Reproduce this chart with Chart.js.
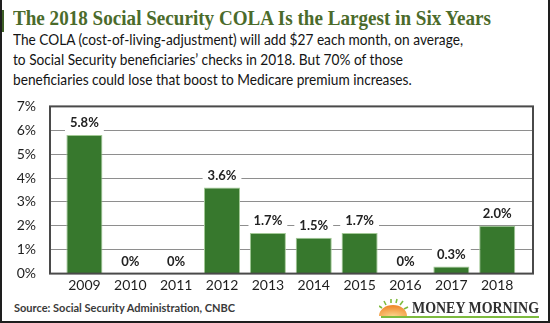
<!DOCTYPE html>
<html>
<head>
<meta charset="utf-8">
<script src="https://cdn.jsdelivr.net/npm/chart.js@4.4.1/dist/chart.umd.min.js"></script>
<style>
  html, body { margin: 0; padding: 0; background: #fff; }
  #card {
    position: relative; width: 550px; height: 323px; box-sizing: border-box;
    border-left: 2px solid #1e1e1e; border-right: 2px solid #1e1e1e; border-bottom: 2px solid #1e1e1e;
    overflow: hidden; background: #fff;
  }
  #accent { position: absolute; left: 0; top: 10px; width: 2px; height: 22px; background: #3e5f27; }
  #title {
    position: absolute; left: 11px; top: 5px; white-space: nowrap;
    font-family: "Liberation Serif", "DejaVu Serif", serif; font-weight: bold; font-size: 22px;
    color: #4b6b2b; transform-origin: left top;
  }
  #sub {
    position: absolute; left: 11px; top: 29px; white-space: nowrap;
    font-family: "Lato", "Noto Sans", sans-serif; font-size: 15px; line-height: 20px; color: #141414;
    transform-origin: left top;
  }
  #wrap { position: absolute; left: -2px; top: 84px; width: 550px; height: 212px; }
  #source {
    position: absolute; left: 12px; top: 301px;
    font-family: "Lato", "Noto Sans", sans-serif; font-size: 11px; font-weight: bold; color: #3a3a3a;
  }
  #logo { position: absolute; left: 377px; top: 295px; }
</style>
</head>
<body>
<div id="card">
  <div id="accent"></div>
  <div id="title">The 2018 Social Security COLA Is the Largest in Six Years</div>
  <div id="sub">The COLA (cost-of-living-adjustment) will add $27 each month, on average,<br>to Social Security beneficiaries’ checks in 2018. But 70% of those<br>beneficiaries could lose that boost to Medicare premium increases.</div>
  <div id="wrap"><canvas id="cola"></canvas></div>
  <div id="source">Source: Social Security Administration, CNBC</div>
  <svg id="logo" width="164" height="26" viewBox="0 0 164 26">
    <defs>
      <radialGradient id="sun" cx="0.5" cy="1" r="0.9">
        <stop offset="0" stop-color="#fbd48a"/>
        <stop offset="1" stop-color="#f08a2e"/>
      </radialGradient>
    </defs>
    <g stroke="#7dbb3e" stroke-width="1.6">
      <line x1="3" y1="13" x2="0" y2="11"/>
      <line x1="7" y1="10" x2="5" y2="6"/>
      <line x1="12" y1="8" x2="12" y2="4"/>
      <line x1="17" y1="8" x2="18" y2="4"/>
      <line x1="21" y1="10" x2="24" y2="6"/>
      <line x1="25" y1="14" x2="29" y2="12"/>
    </g>
    <path d="M0 21 A14 11 0 0 1 28 21 Z" fill="url(#sun)"/>
    <text x="33" y="17.5" font-family="Liberation Serif, serif" font-size="16" font-weight="bold" fill="#2f2f2f" textLength="127" lengthAdjust="spacingAndGlyphs">MONEY MORNING</text>
    <rect x="2" y="21" width="158" height="2" fill="#7dbb3e"/>
  </svg>
</div>
<script>
const years = ['2009', '2010', '2011', '2012', '2013', '2014', '2015', '2016', '2017', '2018'];
const colaPct = [5.8, 0, 0, 3.6, 1.7, 1.5, 1.7, 0, 0.3, 2.0];
const pctLabels = ['5.8%', '0%', '0%', '3.6%', '1.7%', '1.5%', '1.7%', '0%', '0.3%', '2.0%'];

// squeeze the headline and the intro to their column widths
function fitWidth(el, target) {
  const w = el.getBoundingClientRect().width;
  el.style.transform = 'scaleX(' + (target / w) + ')';
}
fitWidth(document.getElementById('title'), 478);
fitWidth(document.getElementById('sub'), 450);

// value tags on a white box that cuts through the grid lines
const valueTags = {
  id: 'valueTags',
  afterDatasetsDraw(chart) {
    const ctx = chart.ctx;
    const meta = chart.getDatasetMeta(0);
    ctx.save();
    ctx.font = 'bold 13px Lato, "Noto Sans", sans-serif';
    ctx.textAlign = 'center';
    ctx.textBaseline = 'middle';
    meta.data.forEach((bar, i) => {
      const txt = pctLabels[i];
      const y = bar.y - 12;
      const w = ctx.measureText(txt).width + 10;
      ctx.fillStyle = '#fff';
      ctx.fillRect(bar.x - w / 2, y - 8, w, 16);
      ctx.fillStyle = '#222';
      ctx.fillText(txt, bar.x, y);
    });
    ctx.restore();
  }
};

// dark frame round the plot area
const plotFrame = {
  id: 'plotFrame',
  afterDraw(chart) {
    const a = chart.chartArea;
    const ctx = chart.ctx;
    ctx.save();
    ctx.strokeStyle = '#4a4a4a';
    ctx.lineWidth = 2;
    ctx.strokeRect(a.left, a.top, a.right - a.left, a.bottom - a.top);
    ctx.restore();
  }
};

// years sit on a numeric axis so the outer margins can be wider than half a slot
const points = years.map((yr, i) => ({ x: i, y: colaPct[i] }));

new Chart(document.getElementById('cola'), {
  type: 'bar',
  data: {
    datasets: [{
      data: points,
      backgroundColor: '#37782d',
      borderColor: '#a3c996',
      borderWidth: 1,
      categoryPercentage: 1,
      barPercentage: 0.786
    }]
  },
  options: {
    responsive: true,
    maintainAspectRatio: false,
    animation: false,
    layout: { padding: { top: 5, right: 17, left: 0, bottom: 0 } },
    plugins: { legend: { display: false }, tooltip: { enabled: false } },
    scales: {
      x: {
        type: 'linear',
        offset: false,
        min: -0.75, max: 9.78,
        grid: { display: false, drawTicks: false },
        border: { display: false },
        afterBuildTicks(s) { s.ticks = years.map((yr, i) => ({ value: i })); },
        ticks: {
          color: '#1e1e1e', font: { family: 'Lato, "Noto Sans", sans-serif', size: 14 },
          padding: 3, maxRotation: 0, autoSkip: false,
          callback: v => years[v]
        },
        afterFit(s) { s.height = 22; }
      },
      y: {
        min: 0, max: 7,
        grid: { color: '#8e8e8e', lineWidth: 1, drawTicks: false },
        border: { display: false },
        ticks: {
          stepSize: 1, padding: 14, color: '#1e1e1e',
          font: { family: 'Lato, "Noto Sans", sans-serif', size: 14 },
          callback: v => v + '%'
        },
        afterFit(s) { s.width = 50; }
      }
    }
  },
  plugins: [valueTags, plotFrame]
});
</script>
</body>
</html>
